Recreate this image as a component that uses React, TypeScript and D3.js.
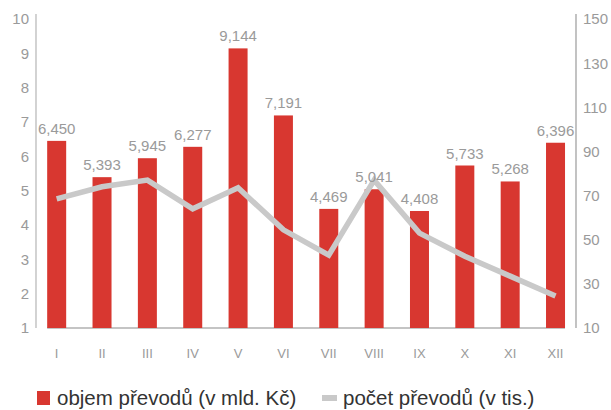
import React from "react";
import * as d3 from "d3";

const months = ["I", "II", "III", "IV", "V", "VI", "VII", "VIII", "IX", "X", "XI", "XII"];
const volume = [6.45, 5.393, 5.945, 6.277, 9.144, 7.191, 4.469, 5.041, 4.408, 5.733, 5.268, 6.396];
const count = [68.5, 74, 77, 64, 73.5, 54.5, 43, 77, 53, 42.5, 33.5, 24.5];
const leftTicks = [1, 2, 3, 4, 5, 6, 7, 8, 9, 10];
const rightTicks = [10, 30, 50, 70, 90, 110, 130, 150];
const legendLabels = ["objem převodů (v mld. Kč)", "počet převodů (v tis.)"];

const W = 611, H = 410;
const RED = "#d83730";
const LINE = "#c9c9c9";
const TXT = "#9a9a9a";
const FONT = "'Liberation Sans', Arial, sans-serif";

export default function App() {
  const x = d3.scaleBand().domain(months).range([34, 578.2]);
  const yL = d3.scaleLinear().domain([1, 10]).range([328, 19]);
  const yR = d3.scaleLinear().domain([10, 150]).range([328, 19]);
  const cx = (m: string) => (x(m) as number) + x.bandwidth() / 2;
  const barW = 19;
  const fmt = (v: number) => d3.format(".3f")(v).replace(".", ",");

  const line = d3.line<number>()
    .x((d, i) => cx(months[i]))
    .y(d => yR(d));

  const first = cx(months[0]) - barW / 2;
  const last = cx(months[months.length - 1]) + barW / 2;

  return (
    <svg width={W} height={H} style={{ position: "absolute", left: 0, top: 0 }} fontFamily={FONT}>
      <rect width={W} height={H} fill="#fff" />
      {/* axes */}
      <line x1={36} x2={36} y1={14} y2={328} stroke="#b5b5b5" strokeWidth={1.2} />
      <line x1={576} x2={576} y1={14} y2={328} stroke="#9a9a9a" strokeWidth={1.2} />
      <line x1={first} x2={last} y1={328} y2={328} stroke="#b0b0b0" strokeWidth={1.5} />
      {leftTicks.map(t => (
        <text key={"l" + t} x={29} y={yL(t)} dy="0.36em" textAnchor="end" fontSize={15} fill={TXT}>{t}</text>
      ))}
      {rightTicks.map(t => (
        <text key={"r" + t} x={583} y={yR(t)} dy="0.36em" textAnchor="start" fontSize={15} fill={TXT}>{t}</text>
      ))}
      {/* bars */}
      {volume.map((v, i) => (
        <rect key={"b" + i} x={cx(months[i]) - barW / 2} y={yL(v)} width={barW} height={yL(1) - yL(v)} fill={RED} />
      ))}
      {/* line */}
      <path d={line(count) || ""} fill="none" stroke={LINE} strokeWidth={5.5} strokeLinejoin="miter" />
      {/* value labels */}
      {volume.map((v, i) => (
        <text key={"v" + i} x={cx(months[i])} y={yL(v) - 7} textAnchor="middle" fontSize={15} fill={TXT}>{fmt(v)}</text>
      ))}
      {/* month labels */}
      {months.map(m => (
        <text key={"m" + m} x={cx(m)} y={353} dy="0.36em" textAnchor="middle" fontSize={13} fill={TXT}>{m}</text>
      ))}
      {/* legend */}
      <rect x={37} y={391} width={13} height={14} fill={RED} />
      <text x={57} y={398} dy="0.36em" fontSize={20.5} fill="#333">{legendLabels[0]}</text>
      <rect x={322} y={395} width={15} height={6} fill={LINE} />
      <text x={343} y={398} dy="0.36em" fontSize={20.5} fill="#333">{legendLabels[1]}</text>
    </svg>
  );
}
